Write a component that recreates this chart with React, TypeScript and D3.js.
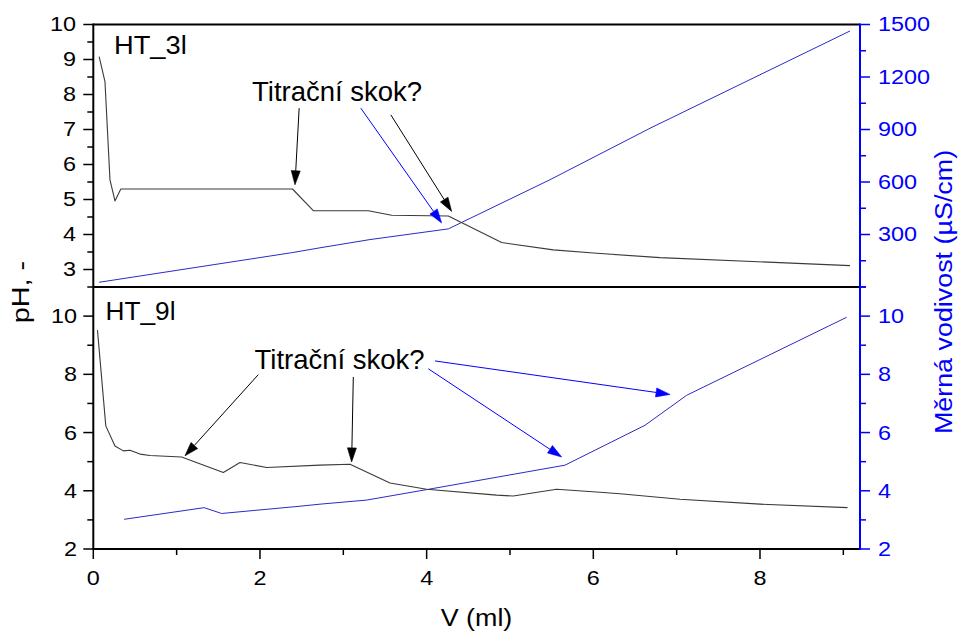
import React from "react";
import * as d3 from "d3";

// HT_3l titration: pH and specific conductivity vs. titrant volume
const topPhV = [0.07, 0.14, 0.2, 0.26, 0.33, 2.39, 2.64, 3.3, 3.58, 4.26, 4.9, 5.52, 6.0, 6.8, 9.08];
const topPh = [9.08, 8.37, 5.56, 4.96, 5.3, 5.3, 4.68, 4.68, 4.55, 4.53, 3.77, 3.56, 3.47, 3.34, 3.11];
const topCondV = [0.07, 2.38, 2.72, 3.32, 4.26, 5.48, 6.68, 9.08];
const topCond = [27, 196, 224, 271, 332, 613, 907, 1463];

// HT_9l titration
const botPhV = [0.05, 0.15, 0.26, 0.36, 0.44, 0.56, 0.68, 1.06, 1.56, 1.76, 2.08, 2.72, 3.08, 3.56, 4.0, 4.84, 5.04, 5.56, 6.08, 6.32, 7.04, 8.0, 9.05];
const botPh = [9.52, 6.23, 5.54, 5.37, 5.39, 5.26, 5.21, 5.16, 4.63, 4.97, 4.8, 4.88, 4.91, 4.27, 4.05, 3.85, 3.82, 4.05, 3.95, 3.9, 3.71, 3.54, 3.42];
const botCondV = [0.37, 1.33, 1.54, 2.48, 2.72, 3.28, 4.08, 5.66, 6.62, 7.12, 9.04];
const botCond = [3.02, 3.42, 3.22, 3.47, 3.54, 3.68, 4.08, 4.88, 6.25, 7.28, 9.96];

// axis ticks
const xMajor = [0, 2, 4, 6, 8];
const xMinor = [1, 3, 5, 7, 9];
const topPhMajor = [3, 4, 5, 6, 7, 8, 9, 10];
const topPhMinor = [3.5, 4.5, 5.5, 6.5, 7.5, 8.5, 9.5];
const topCondMajor = [300, 600, 900, 1200, 1500];
const topCondMinor = [0, 150, 450, 750, 1050, 1350];
const botMajor = [2, 4, 6, 8, 10];
const botMinor = [3, 5, 7, 9, 11];

// "Titrační skok?" arrows in data units: [v0, y0, v1, y1] (tail -> head)
const topArrowsBlack = [
  [2.47, 7.61, 2.42, 5.42],
  [3.57, 7.42, 4.3, 4.66],
];
const topArrowsBlue = [[3.21, 7.61, 4.18, 4.33]];
const botArrowsBlack = [
  [1.98, 7.99, 1.1, 5.2],
  [3.12, 7.91, 3.1, 4.99],
];
const botArrowsBlue = [
  [4.02, 8.19, 5.62, 5.16],
  [4.1, 8.46, 6.92, 7.31],
];

const FONT = "'Liberation Sans', Arial, Helvetica, sans-serif";
const BLUE = "#0000ff";
const LINE_BLUE = "#2a2ac8";
const LINE_GRAY = "#3a3a3a";

const L = 93.3;
const R = 860;
const T = 24.5;
const M = 287;
const B = 549;

const x = d3.scaleLinear().domain([0, 9.2]).range([L, R]);
const yTopPh = d3.scaleLinear().domain([2.5, 10]).range([M, T]);
const yTopCond = d3.scaleLinear().domain([0, 1500]).range([M, T]);
const yBot = d3.scaleLinear().domain([2, 11]).range([B, M]);
const yBotCond = d3.scaleLinear().domain([2, 11]).range([B, M]);

function pathOf(vs: number[], ys: number[], ys2: d3.ScaleLinear<number, number>) {
  const pts = vs.map((v, i) => [v, ys[i]] as [number, number]);
  return d3
    .line<[number, number]>()
    .x((d) => x(d[0]))
    .y((d) => ys2(d[1]))(pts) as string;
}

function Txt(props: {
  x: number;
  y: number;
  text: string;
  size: number;
  anchor?: string;
  sx?: number;
  rotate?: number;
  fill?: string;
}) {
  const { sx = 1, rotate = 0, anchor = "start", fill = "#000" } = props;
  return (
    <g transform={`translate(${props.x},${props.y}) rotate(${rotate}) scale(${sx},1)`}>
      <text x={0} y={0} fontSize={props.size} fontFamily={FONT} textAnchor={anchor} fill={fill}>
        {props.text}
      </text>
    </g>
  );
}

function Arrow(props: { a: number[]; ys: d3.ScaleLinear<number, number>; color: string }) {
  const [v0, y0, v1, y1] = props.a;
  const x0 = x(v0);
  const yy0 = props.ys(y0);
  const x1 = x(v1);
  const yy1 = props.ys(y1);
  const dx = x1 - x0;
  const dy = yy1 - yy0;
  const len = Math.hypot(dx, dy);
  const ux = dx / len;
  const uy = dy / len;
  const hl = 14;
  const hw = 4.5;
  const bx = x1 - ux * hl;
  const by = yy1 - uy * hl;
  const head = `M${x1},${yy1} L${bx - uy * hw},${by + ux * hw} L${bx + uy * hw},${by - ux * hw} Z`;
  return (
    <g>
      <line x1={x0} y1={yy0} x2={bx} y2={by} stroke={props.color} strokeWidth={1} />
      <path d={head} fill={props.color} stroke={props.color} strokeWidth={0.6} />
    </g>
  );
}

export default function App() {
  const tickFs = 19.5;
  const tickSx = 1.2;
  const off = 0.358 * tickFs;
  return (
    <svg
      width={958}
      height={632}
      viewBox="0 0 958 632"
      style={{ position: "absolute", left: 0, top: 0, background: "#fff" }}
    >
      <rect x={0} y={0} width={958} height={632} fill="#fff" />

      {/* data lines */}
      <g fill="none" strokeLinejoin="round">
        <path d={pathOf(topCondV, topCond, yTopCond)} stroke={LINE_BLUE} strokeWidth={1} />
        <path d={pathOf(topPhV, topPh, yTopPh)} stroke={LINE_GRAY} strokeWidth={1.1} />
        <path d={pathOf(botCondV, botCond, yBotCond)} stroke={LINE_BLUE} strokeWidth={1} />
        <path d={pathOf(botPhV, botPh, yBot)} stroke={LINE_GRAY} strokeWidth={1.1} />
      </g>

      {/* annotations */}
      {topArrowsBlack.map((a, i) => (
        <Arrow key={`tb${i}`} a={a} ys={yTopPh} color="#000" />
      ))}
      {topArrowsBlue.map((a, i) => (
        <Arrow key={`tu${i}`} a={a} ys={yTopPh} color={BLUE} />
      ))}
      {botArrowsBlack.map((a, i) => (
        <Arrow key={`bb${i}`} a={a} ys={yBot} color="#000" />
      ))}
      {botArrowsBlue.map((a, i) => (
        <Arrow key={`bu${i}`} a={a} ys={yBot} color={BLUE} />
      ))}
      <Txt x={252} y={100.5} text="Titrační skok?" size={27.5} />
      <Txt x={254.5} y={369} text="Titrační skok?" size={27.5} />
      <Txt x={114} y={54} text="HT_3l" size={26} sx={1.05} />
      <Txt x={105.5} y={319.5} text="HT_9l" size={25} sx={1.05} />

      {/* frame */}
      <g stroke="#000" strokeWidth={2} fill="none">
        <line x1={L} y1={T} x2={R} y2={T} />
        <line x1={L} y1={M} x2={R} y2={M} />
        <line x1={L} y1={B} x2={R} y2={B} />
        <line x1={L} y1={T - 1} x2={L} y2={B + 1} />
      </g>
      <line x1={R} y1={T - 1} x2={R} y2={B + 1} stroke={BLUE} strokeWidth={2} />

      {/* left axis, top panel */}
      <g stroke="#000" strokeWidth={1.5}>
        {topPhMajor.map((t) => (
          <line key={`tpm${t}`} x1={L - 10} x2={L} y1={yTopPh(t)} y2={yTopPh(t)} />
        ))}
        {topPhMinor.map((t) => (
          <line key={`tpn${t}`} x1={L - 6} x2={L} y1={yTopPh(t)} y2={yTopPh(t)} />
        ))}
        {botMajor.map((t) => (
          <line key={`bpm${t}`} x1={L - 10} x2={L} y1={yBot(t)} y2={yBot(t)} />
        ))}
        {botMinor.map((t) => (
          <line key={`bpn${t}`} x1={L - 6} x2={L} y1={yBot(t)} y2={yBot(t)} />
        ))}
        {xMajor.map((t) => (
          <line key={`xm${t}`} x1={x(t)} x2={x(t)} y1={B} y2={B + 10} />
        ))}
        {xMinor.map((t) => (
          <line key={`xn${t}`} x1={x(t)} x2={x(t)} y1={B} y2={B + 6} />
        ))}
      </g>
      {topPhMajor.map((t) => (
        <Txt key={`tpl${t}`} x={76} y={yTopPh(t) + off} text={String(t)} size={tickFs} anchor="end" sx={tickSx} />
      ))}
      {botMajor.map((t) => (
        <Txt key={`bpl${t}`} x={77} y={yBot(t) + off} text={String(t)} size={tickFs} anchor="end" sx={tickSx} />
      ))}
      {xMajor.map((t) => (
        <Txt key={`xl${t}`} x={x(t)} y={585} text={String(t)} size={tickFs} anchor="middle" sx={tickSx} />
      ))}

      {/* right axis */}
      <g stroke={BLUE} strokeWidth={1.5}>
        {topCondMajor.map((t) => (
          <line key={`tcm${t}`} x1={R} x2={R + 10} y1={yTopCond(t)} y2={yTopCond(t)} />
        ))}
        {topCondMinor.map((t) => (
          <line key={`tcn${t}`} x1={R} x2={R + 6} y1={yTopCond(t)} y2={yTopCond(t)} />
        ))}
        {botMajor.map((t) => (
          <line key={`bcm${t}`} x1={R} x2={R + 10} y1={yBotCond(t)} y2={yBotCond(t)} />
        ))}
        {botMinor.map((t) => (
          <line key={`bcn${t}`} x1={R} x2={R + 6} y1={yBotCond(t)} y2={yBotCond(t)} />
        ))}
      </g>
      {topCondMajor.map((t) => (
        <Txt key={`tcl${t}`} x={878} y={yTopCond(t) + off} text={String(t)} size={tickFs} sx={tickSx} fill={BLUE} />
      ))}
      {botMajor.map((t) => (
        <Txt key={`bcl${t}`} x={878} y={yBotCond(t) + off} text={String(t)} size={tickFs} sx={tickSx} fill={BLUE} />
      ))}

      {/* axis titles */}
      <Txt x={476.5} y={626} text="V (ml)" size={24} anchor="middle" sx={1.12} />
      <Txt x={28.5} y={292} text="pH, -" size={24} anchor="middle" sx={1.2} rotate={-90} />
      <Txt
        x={952}
        y={292}
        text="Měrná vodivost (µS/cm)"
        size={24}
        anchor="middle"
        sx={1.12}
        rotate={-90}
        fill={BLUE}
      />
    </svg>
  );
}
